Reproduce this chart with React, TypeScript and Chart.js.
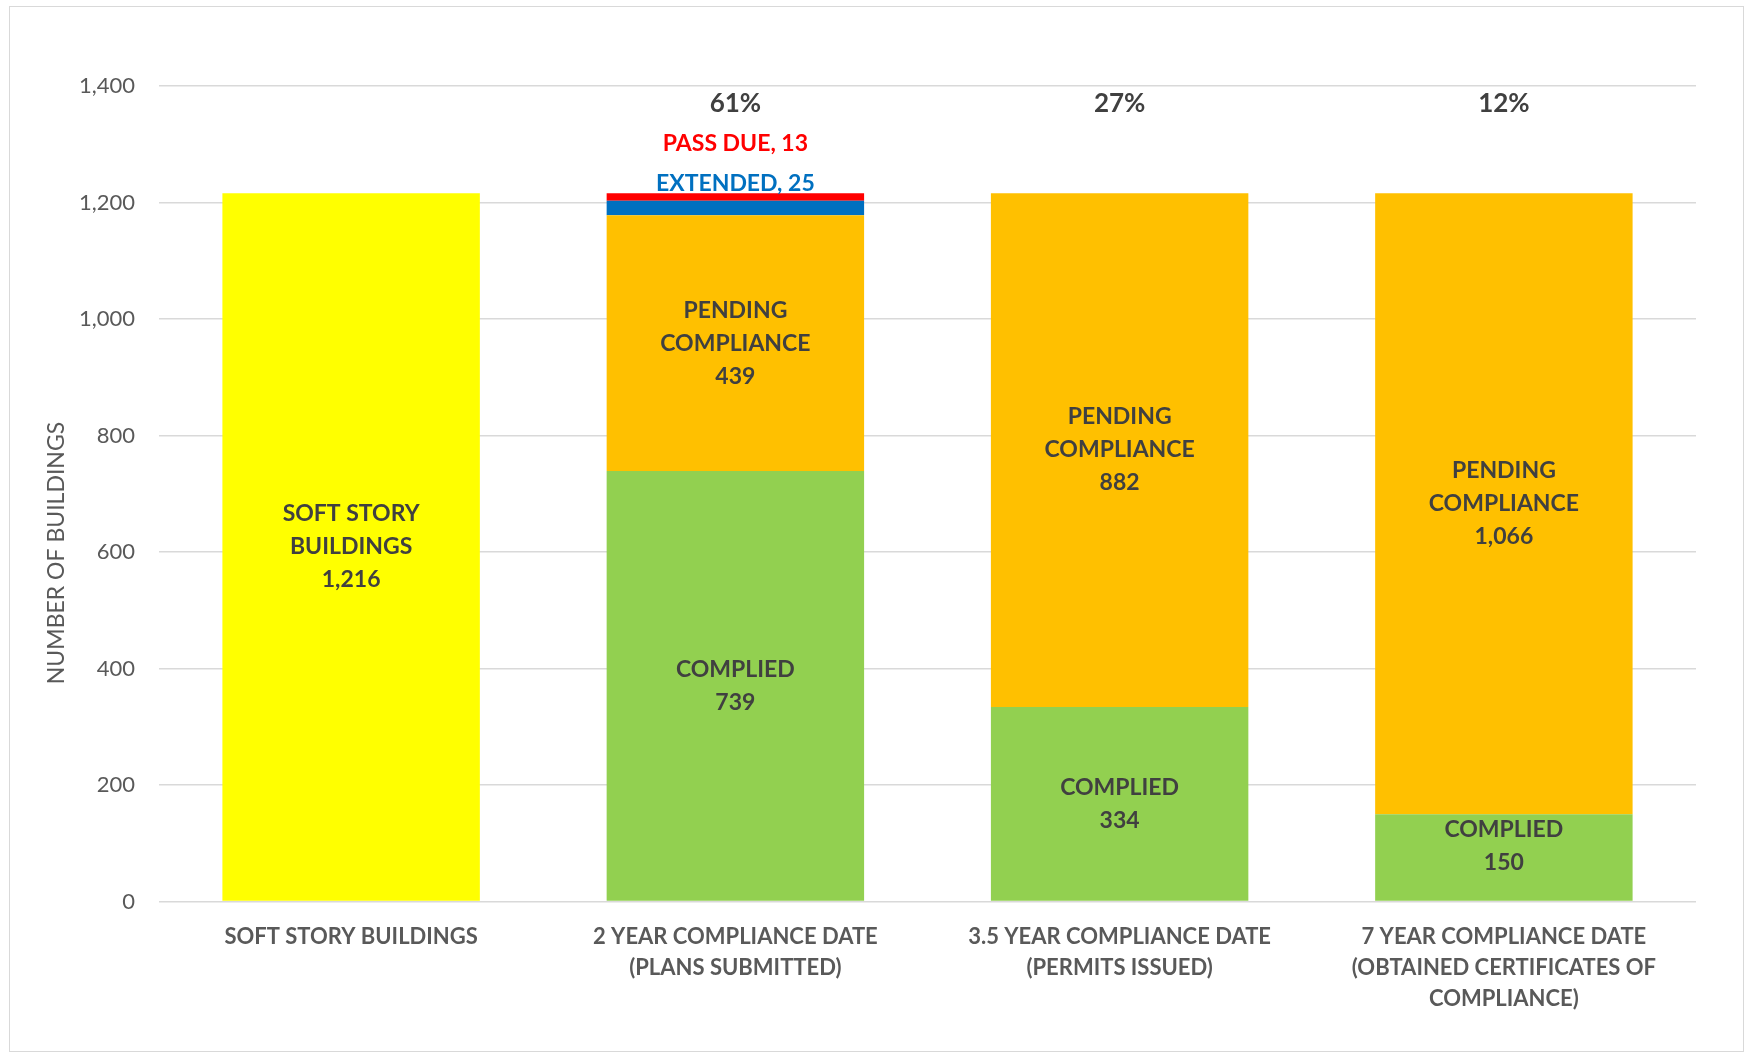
import React, { useEffect, useRef } from 'react';
import { Chart, registerables } from 'chart.js';

Chart.register(...registerables);

// ---- Data ----
const categories: string[][] = [
  ['SOFT STORY BUILDINGS'],
  ['2 YEAR COMPLIANCE DATE', '(PLANS SUBMITTED)'],
  ['3.5 YEAR COMPLIANCE DATE', '(PERMITS ISSUED)'],
  ['7 YEAR COMPLIANCE DATE', '(OBTAINED CERTIFICATES OF', 'COMPLIANCE)'],
];
const softStoryValues = [1216, null, null, null];
const compliedValues = [null, 739, 334, 150];
const pendingValues = [null, 439, 882, 1066];
const extendedValues = [null, 25, null, null];
const passDueValues = [null, 13, null, null];
const percentLabels = ['', '61%', '27%', '12%'];
const yMin = 0;
const yMax = 1400;
const yStep = 200;
const yAxisTitle = 'NUMBER OF BUILDINGS';

const FONT = 'Lato, "Open Sans", sans-serif';
const fmt = (v: number) => v.toLocaleString('en-US');

const labelPlugin = {
  id: 'barLabels',
  afterDatasetsDraw(chart: any) {
    const ctx = chart.ctx;
    const yScale = chart.scales.y;
    const datasets = chart.data.datasets;
    ctx.save();
    ctx.textAlign = 'center';
    ctx.textBaseline = 'middle';
    const nCat = chart.data.labels.length;
    const totals: number[] = [];
    for (let i = 0; i < nCat; i++) {
      let t = 0;
      datasets.forEach((ds: any) => { const v = ds.data[i]; if (v != null) t += v; });
      totals.push(t);
    }
    datasets.forEach((ds: any, di: number) => {
      const meta = chart.getDatasetMeta(di);
      const info = ds.labelInfo;
      meta.data.forEach((bar: any, i: number) => {
        const v = ds.data[i];
        if (v == null) return;
        const p = bar.getProps(['x', 'y', 'base'], true);
        if (info.outside) {
          ctx.font = `bold 23px ${FONT}`;
          ctx.fillStyle = info.color;
          const top = yScale.getPixelForValue(totals[i]);
          ctx.fillText(`${info.name}, ${fmt(v)}`, p.x, top - info.offset);
        } else {
          ctx.font = `bold 23px ${FONT}`;
          ctx.fillStyle = '#404040';
          const lines = [...info.lines, fmt(v)];
          const lh = 33;
          let c = (p.y + p.base) / 2;
          const half = ((lines.length - 1) * lh) / 2 + 38;
          if (c + half > p.base) c = p.base - half;
          const start = c - ((lines.length - 1) * lh) / 2;
          lines.forEach((ln: string, k: number) => ctx.fillText(ln, p.x, start + k * lh));
        }
      });
    });
    // percentage labels above stacks
    ctx.font = `bold 26px ${FONT}`;
    ctx.fillStyle = '#404040';
    const meta0 = chart.getDatasetMeta(1);
    percentLabels.forEach((lab, i) => {
      if (!lab) return;
      const x = meta0.data[i].x;
      const top = yScale.getPixelForValue(totals[i]);
      ctx.fillText(lab, x, top - 90);
    });
    // y-axis title
    ctx.font = `23px ${FONT}`;
    ctx.fillStyle = '#595959';
    ctx.translate(57, 553);
    ctx.rotate(-Math.PI / 2);
    ctx.fillText(yAxisTitle, 0, 0);
    ctx.restore();
  },
};

export default function App() {
  const ref = useRef<HTMLCanvasElement | null>(null);
  useEffect(() => {
    if (!ref.current) return;
    const chart = new Chart(ref.current, {
      type: 'bar',
      data: {
        labels: categories,
        datasets: [
          { label: 'Soft Story Buildings', data: softStoryValues, backgroundColor: '#FFFF00', labelInfo: { lines: ['SOFT STORY', 'BUILDINGS'] } } as any,
          { label: 'Complied', data: compliedValues, backgroundColor: '#92D050', labelInfo: { lines: ['COMPLIED'] } } as any,
          { label: 'Pending Compliance', data: pendingValues, backgroundColor: '#FFC000', labelInfo: { lines: ['PENDING', 'COMPLIANCE'] } } as any,
          { label: 'Extended', data: extendedValues, backgroundColor: '#0070C0', labelInfo: { outside: true, name: 'EXTENDED', color: '#0070C0', offset: 10 } } as any,
          { label: 'Pass Due', data: passDueValues, backgroundColor: '#FF0000', labelInfo: { outside: true, name: 'PASS DUE', color: '#FF0000', offset: 50 } } as any,
        ],
      },
      options: {
        animation: false,
        responsive: false,
        devicePixelRatio: 1,
        layout: { padding: { left: 0, right: 51, top: 86, bottom: 0 } },
        datasets: { bar: { categoryPercentage: 1, barPercentage: 0.67, skipNull: false } } as any,
        plugins: { legend: { display: false }, tooltip: { enabled: false } },
        scales: {
          x: {
            stacked: true,
            grid: { display: false },
            border: { display: false },
            ticks: {
              color: '#595959',
              font: { family: FONT, size: 22, weight: 'bold', lineHeight: 1.4 },
              padding: 12,
              maxRotation: 0,
              autoSkip: false,
            },
            afterFit: (s: any) => { s.height = 1055 - 901.5; },
          },
          y: {
            stacked: true,
            min: yMin,
            max: yMax,
            border: { display: false },
            grid: { color: '#d9d9d9', lineWidth: 1.5, drawTicks: false },
            ticks: {
              stepSize: yStep,
              color: '#595959',
              font: { family: FONT, size: 22 },
              padding: 24,
              callback: (v: any) => fmt(Number(v)),
            },
            afterFit: (s: any) => { s.width = 159; },
          },
        },
      },
      plugins: [labelPlugin],
    });
    return () => chart.destroy();
  }, []);
  return (
    <div style={{ position: 'absolute', left: 0, top: 0, width: 1747, height: 1055, background: '#fff' }}>
      <div style={{ position: 'absolute', left: 9, top: 6, width: 1735, height: 1046, border: '1px solid #d9d9d9', boxSizing: 'border-box' }} />
      <canvas ref={ref} width={1747} height={1055} style={{ position: 'absolute', left: 0, top: 0 }} />
    </div>
  );
}
